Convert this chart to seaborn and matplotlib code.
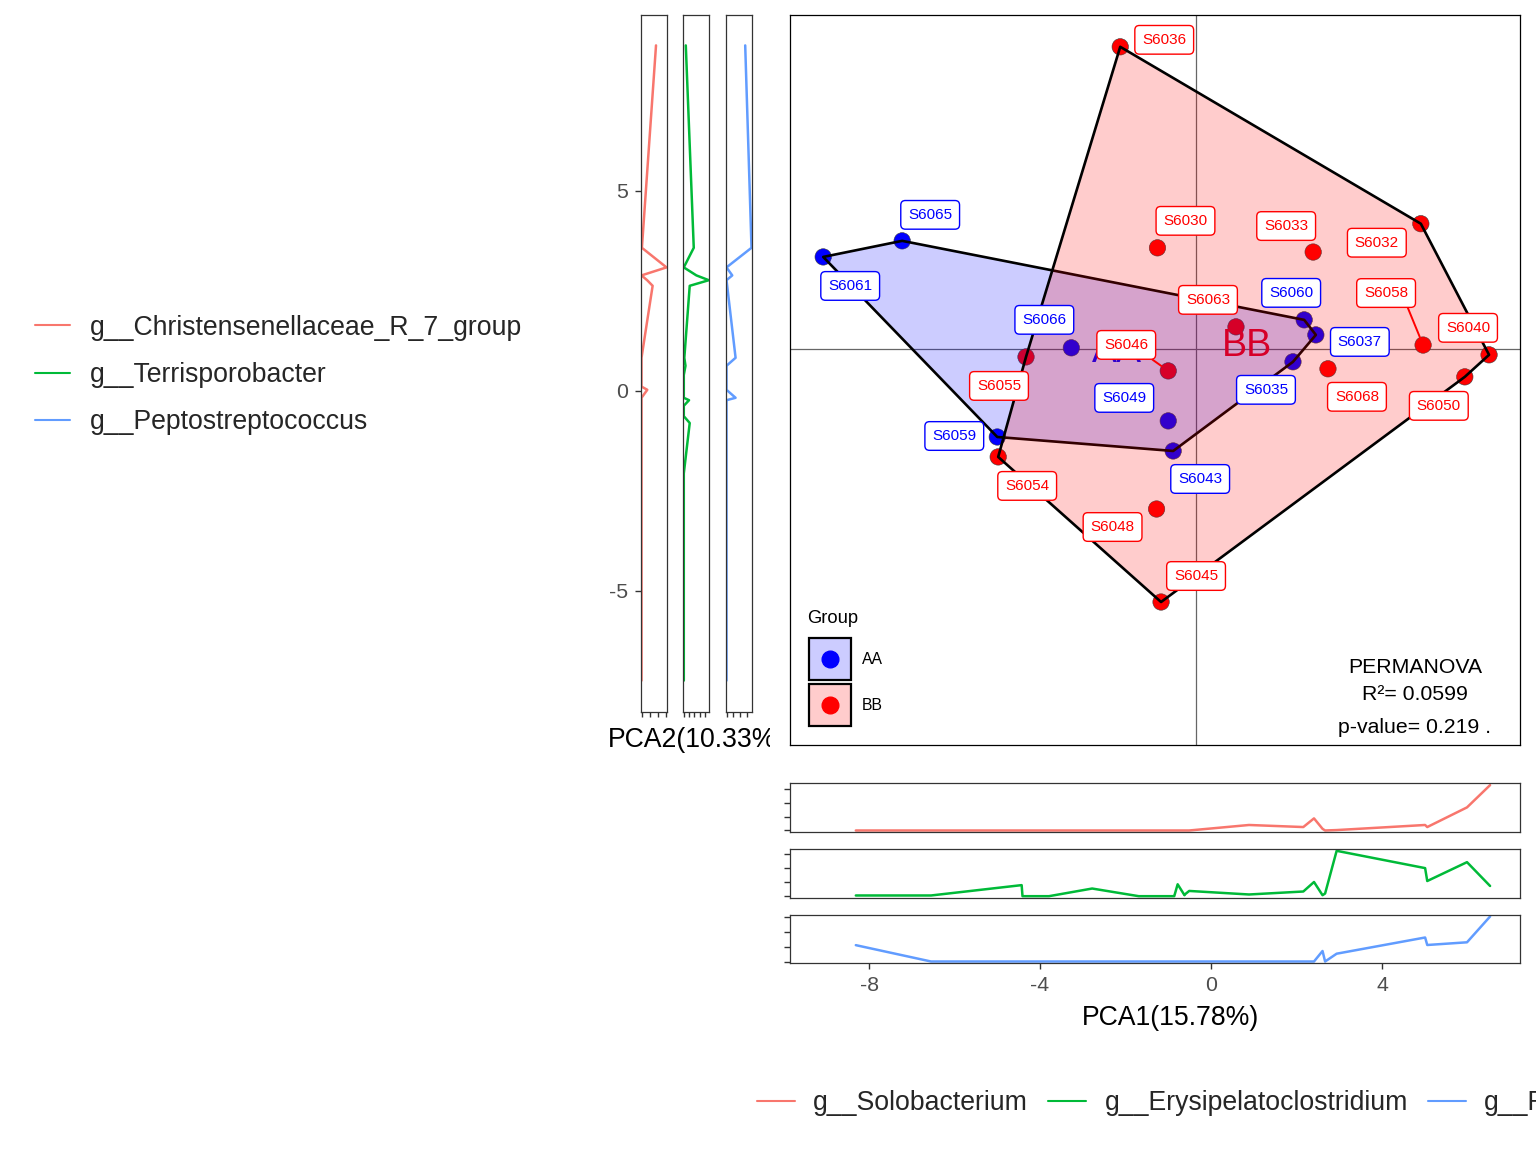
import numpy as np
import pandas as pd
import matplotlib
matplotlib.use("Agg")
import matplotlib.pyplot as plt
import seaborn as sns
from matplotlib.patches import Polygon, Rectangle
from matplotlib.lines import Line2D
from matplotlib.transforms import Bbox, TransformedBbox

# ---------------- data ----------------
samples = ["S6061", "S6065", "S6066", "S6059", "S6049", "S6043", "S6035", "S6060", "S6037",
           "S6036", "S6030", "S6033", "S6032", "S6063", "S6058", "S6040", "S6046", "S6055",
           "S6054", "S6048", "S6045", "S6068", "S6050"]
groups = ["AA"] * 9 + ["BB"] * 14
pca1 = [-8.31, -6.55, -2.78, -4.43, -0.62, -0.51, 2.16, 2.41, 2.67,
        -1.69, -0.86, 2.61, 5.01, 0.89, 5.06, 6.53, -0.62, -3.79,
        -4.41, -0.88, -0.78, 2.94, 5.99]
pca2 = [2.63, 3.09, 0.03, -2.52, -2.06, -2.92, -0.37, 0.83, 0.40,
        8.64, 2.89, 2.77, 3.58, 0.63, 0.11, -0.17, -0.63, -0.23,
        -3.09, -4.58, -7.24, -0.57, -0.80]

# genera shown along PCA2 (left marginal panels), relative abundance
christensenellaceae = [1.38, 3.10, 0.72, 0.00, 0.00, 0.00, 0.00, 0.00, 0.00,
                       1.80, 0.00, 0.70, 0.05, 0.00, 0.00, 0.00, 0.00, 0.00,
                       0.00, 0.00, 0.00, 0.00, 0.00]
terrisporobacter = [1.13, 0.00, 0.00, 0.00, 0.00, 0.00, 0.00, 0.10, 0.00,
                    0.38, 2.40, 4.77, 1.90, 0.32, 0.00, 0.00, 0.00, 1.00,
                    0.00, 0.00, 0.00, 0.00, 1.13]
peptostreptococcus = [0.10, 0.00, 0.00, 0.00, 0.00, 0.00, 0.00, 1.34, 0.00,
                      2.76, 0.85, 0.00, 3.69, 0.00, 0.00, 1.34, 0.00, 0.00,
                      0.00, 0.00, 0.00, 0.00, 0.00]

# genera shown along PCA1 (bottom marginal panels)
solobacterium = [0.00, 0.00, 0.00, 0.00, 0.00, 0.00, 0.25, 0.88, 0.00,
                 0.00, 0.00, 0.12, 0.40, 0.40, 0.25, 3.30, 0.00, 0.00,
                 0.00, 0.00, 0.00, 0.03, 1.68]
erysipelatoclostridium = [0.05, 0.05, 0.54, 0.78, 0.10, 0.37, 0.33, 1.00, 0.19,
                          0.00, 0.00, 0.07, 1.98, 0.12, 1.07, 0.72, 0.07, 0.00,
                          0.00, 0.00, 0.84, 3.20, 2.40]
third_pc1_genus = [1.09, 0.00, 0.00, 0.00, 0.00, 0.00, 0.00, 0.00, 0.00,
                   0.00, 0.00, 0.70, 1.60, 0.00, 1.10, 3.00, 0.00, 0.00,
                   0.00, 0.00, 0.00, 0.52, 1.28]

left_genera = ["g__Christensenellaceae_R_7_group", "g__Terrisporobacter", "g__Peptostreptococcus"]
bottom_genera = ["g__Solobacterium", "g__Erysipelatoclostridium", "g__Prevotella"]
group_levels = ["AA", "BB"]
pc1_title = "PCA1(15.78%)"
pc2_title = "PCA2(10.33%)"
stats_lines = ["PERMANOVA", "R\u00b2= 0.0599", "p-value= 0.219 ."]

# ---------------- styling ----------------
group_colors = {"AA": "#0000FF", "BB": "#FF0000"}
fill_colors = {"AA": (0, 0, 1, 0.2), "BB": (1, 0, 0, 0.2)}
line_colors = ["#F8766D", "#00BA38", "#619CFF"]

# label offsets in pixels (label centre relative to point)
label_offsets = {
    "S6036": (44, 7), "S6065": (28, 26), "S6061": (27, -29), "S6030": (28, 27),
    "S6033": (-27, 26), "S6032": (-44, -19), "S6063": (-28, 27), "S6060": (-13, 27),
    "S6058": (-37, 52), "S6040": (-21, 27), "S6066": (-27, 28), "S6046": (-42, 26),
    "S6037": (44, -7), "S6055": (-27, -29), "S6049": (-44, 23), "S6035": (-27, -28),
    "S6068": (29, -28), "S6050": (-26, -29), "S6059": (-43, 1), "S6043": (27, -28),
    "S6054": (29, -29), "S6048": (-44, -18), "S6045": (35, 26),
}
# labels joined to their point by a segment, with the segment's start on the label box
segment_labels = {"S6046": (0.85, 0.0), "S6058": (0.92, 0.0)}

sns.set_style("white")
plt.rcParams["font.family"] = ["Liberation Sans", "DejaVu Sans"]
plt.rcParams["axes.unicode_minus"] = False

df = pd.DataFrame({"Sample": samples, "Group": groups, "PCA1": pca1, "PCA2": pca2,
                   left_genera[0]: christensenellaceae, left_genera[1]: terrisporobacter,
                   left_genera[2]: peptostreptococcus,
                   bottom_genera[0]: solobacterium, bottom_genera[1]: erysipelatoclostridium,
                   bottom_genera[2]: third_pc1_genus})

W, H = 1536, 1152
fig = plt.figure(figsize=(W / 100, H / 100), dpi=100)


def fx(px):
    return px / W


def fy(py):
    return 1 - py / H


def hull(points):
    pts = sorted(set(map(tuple, points)))

    def cross(o, a, b):
        return (a[0] - o[0]) * (b[1] - o[1]) - (a[1] - o[1]) * (b[0] - o[0])
    lower, upper = [], []
    for p in pts:
        while len(lower) >= 2 and cross(lower[-2], lower[-1], p) <= 0:
            lower.pop()
        lower.append(p)
    for p in reversed(pts):
        while len(upper) >= 2 and cross(upper[-2], upper[-1], p) <= 0:
            upper.pop()
        upper.append(p)
    return lower[:-1] + upper[:-1]


# ---------------- main PCA panel ----------------
MX0, MY0, MW, MH = 790, 15, 730, 730
ax = fig.add_axes([fx(MX0), fy(MY0 + MH), MW / W, MH / H])
ax.set_xlim(-9.05, 7.22)
ax.set_ylim(-11.33, 9.55)
ax.axvline(0, color="#666666", lw=0.9, zorder=0.5)
ax.axhline(0, color="#666666", lw=0.9, zorder=0.5)

sns.scatterplot(data=df, x="PCA1", y="PCA2", hue="Group", palette=group_colors,
                hue_order=group_levels, s=140, edgecolor="#3a3a3a", linewidth=0.4,
                legend=False, ax=ax, zorder=1)

cent = df.groupby("Group")[["PCA1", "PCA2"]].mean()
for g in group_levels:
    ax.text(cent.loc[g, "PCA1"], cent.loc[g, "PCA2"], g, color=group_colors[g],
            fontsize=27, ha="center", va="center", zorder=1.5)

for i, g in enumerate(group_levels):
    sub = df[df["Group"] == g]
    hv = hull(sub[["PCA1", "PCA2"]].values)
    ax.add_patch(Polygon(hv, closed=True, facecolor=fill_colors[g], edgecolor="black",
                         linewidth=1.9, joinstyle="round", zorder=3 + i * 0.1))

for _, r in df.iterrows():
    c = group_colors[r["Group"]]
    dx, dy = label_offsets[r["Sample"]]
    kw = {}
    if r["Sample"] in segment_labels:
        kw["arrowprops"] = dict(arrowstyle="-", color=c, lw=1.4, shrinkA=0, shrinkB=6,
                                relpos=segment_labels[r["Sample"]])
    ax.annotate(r["Sample"], xy=(r["PCA1"], r["PCA2"]), xytext=(dx, dy),
                textcoords="offset pixels", ha="center", va="center", fontsize=11, color=c,
                bbox=dict(boxstyle="round,pad=0.48,rounding_size=0.3", fc="white", ec=c, lw=1.0),
                zorder=6, **kw)

for k, txt in enumerate(stats_lines):
    ax.text(0.856, [0.1055, 0.0685, 0.0233][k], txt, transform=ax.transAxes,
            ha="center", va="center", fontsize=15.3, color="black", zorder=7)


# legend drawn inside the main panel (axes-fraction placement)
def afx(px):
    return (px - MX0) / MW


def afy(py):
    return (MY0 + MH - py) / MH


ax.text(afx(807), afy(619), "Group", transform=ax.transAxes, ha="left", va="center",
        fontsize=13.2, color="black", zorder=8)
key_tops = [638, 684]
for g, top in zip(group_levels, key_tops):
    ax.add_patch(Rectangle((afx(809), afy(top + 42)), 42 / MW, 42 / MH, transform=ax.transAxes,
                           facecolor="white", edgecolor="none", zorder=7.9))
    ax.add_patch(Rectangle((afx(809), afy(top + 42)), 42 / MW, 42 / MH, transform=ax.transAxes,
                           facecolor=fill_colors[g], edgecolor="black", linewidth=1.6, zorder=8))
    ax.plot([afx(830)], [afy(top + 21)], marker="o", ms=12, color=group_colors[g],
            transform=ax.transAxes, zorder=8.5, clip_on=False)
    ax.text(afx(862), afy(top + 22), g, transform=ax.transAxes, ha="left", va="center",
            fontsize=11.3, color="black", zorder=8)

ax.set_xticks([])
ax.set_yticks([])
ax.set_xlabel("")
ax.set_ylabel("")
for s in ax.spines.values():
    s.set_color("black")
    s.set_linewidth(0.9)

# ---------------- left marginal panels (along PCA2) ----------------
left_x = [641, 683.3, 726]
for k, gname in enumerate(left_genera):
    lax = fig.add_axes([fx(left_x[k]), fy(712), 26 / W, 697 / H])
    sns.lineplot(data=df, x=gname, y="PCA2", orient="y", estimator=None, sort=True,
                 color=line_colors[k], lw=1.8, ax=lax)
    vmax = df[gname].max()
    lax.set_xlim(-0.02 * vmax, 1.02 * vmax)
    lax.set_ylim(-8.025, 9.4)
    lax.set_xticks(np.arange(0, np.floor(vmax) + 1))
    lax.set_xticklabels([])
    lax.set_xlabel("")
    lax.set_ylabel("")
    lax.tick_params(axis="x", bottom=True, length=3.5, width=1.0, color="#333333")
    if k == 0:
        lax.set_yticks([-5, 0, 5])
        lax.tick_params(axis="y", left=True, length=4.5, width=1.0, color="#333333",
                        labelsize=15.3, labelcolor="#4D4D4D", pad=5)
    else:
        lax.set_yticks([])
    for s in lax.spines.values():
        s.set_color("#333333")
        s.set_linewidth(0.9)

t = fig.text(fx(608), fy(740), pc2_title, ha="left", va="center", fontsize=19.2, color="black")
t.set_clip_box(TransformedBbox(Bbox([[0, 0], [770 / W, 1]]), fig.transFigure))
t.set_clip_on(True)

# ---------------- bottom marginal panels (along PCA1) ----------------
bottom_y = [(783.3, 832.3), (849, 898), (914.7, 963.3)]
for k, gname in enumerate(bottom_genera):
    y0, y1 = bottom_y[k]
    bax = fig.add_axes([fx(790), fy(y1), 730 / W, (y1 - y0) / H])
    sns.lineplot(data=df, x="PCA1", y=gname, estimator=None, sort=True,
                 color=line_colors[k], lw=1.8, ax=bax)
    vmax = df[gname].max()
    bax.set_ylim(-0.04 * vmax, 1.04 * vmax)
    bax.set_xlim(-9.85, 7.23)
    bax.set_yticks(np.arange(0, np.floor(vmax) + 1))
    bax.set_yticklabels([])
    bax.set_xlabel("")
    bax.set_ylabel("")
    bax.tick_params(axis="y", left=True, length=4, width=1.0, color="#333333")
    if k == 2:
        bax.set_xticks([-8, -4, 0, 4])
        bax.set_xticklabels(["-8", "-4", "0", "4"])
        bax.tick_params(axis="x", bottom=True, length=4.5, width=1.0, color="#333333",
                        labelsize=15.3, labelcolor="#4D4D4D", pad=5)
    else:
        bax.set_xticks([])
    for s in bax.spines.values():
        s.set_color("#333333")
        s.set_linewidth(0.9)

fig.text(fx(1171), fy(1018), pc1_title, ha="center", va="center", fontsize=19.2, color="black")

# ---------------- figure legends ----------------
lh = [Line2D([], [], color=c, lw=1.5) for c in line_colors]
fig.legend(lh, left_genera, loc="center left", bbox_to_anchor=(fx(35), fy(375)),
           frameon=False, fontsize=19.2, handlelength=1.3, handletextpad=0.75,
           labelspacing=0.8, borderpad=0, borderaxespad=0)
fig.legend(lh, bottom_genera, loc="center left", bbox_to_anchor=(fx(757), fy(1103)),
           ncol=3, frameon=False, fontsize=19.2, handlelength=1.43, handletextpad=0.68,
           columnspacing=0.75, borderpad=0, borderaxespad=0)

fig.savefig("out.png", dpi=100)
